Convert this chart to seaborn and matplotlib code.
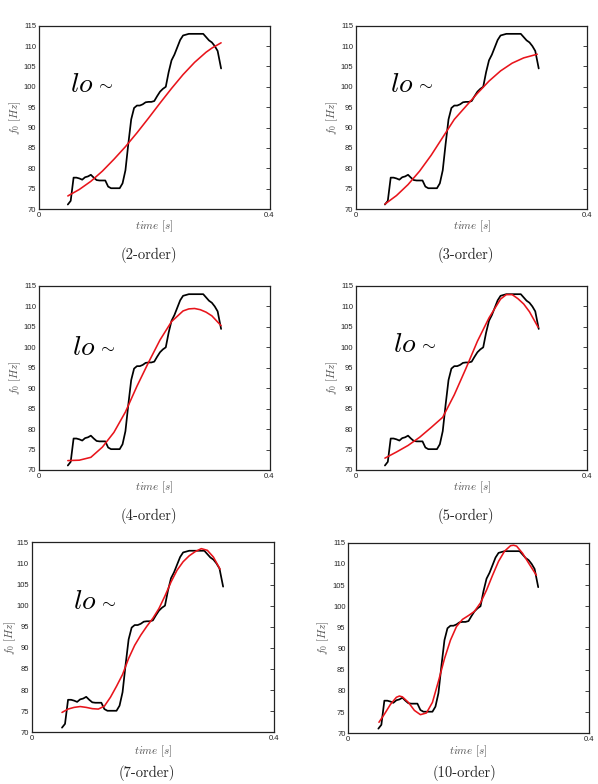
import numpy as np
import pandas as pd
import matplotlib
matplotlib.use("Agg")
import matplotlib.pyplot as plt
import seaborn as sns

# ---- data ----
time_s = [0.050, 0.055, 0.060, 0.065, 0.070, 0.075, 0.080, 0.085, 0.090, 0.095,
          0.100, 0.105, 0.110, 0.115, 0.120, 0.125, 0.130, 0.135, 0.140, 0.145,
          0.150, 0.155, 0.160, 0.165, 0.170, 0.175, 0.180, 0.185, 0.190, 0.195,
          0.200, 0.205, 0.210, 0.215, 0.220, 0.225, 0.230, 0.235, 0.240, 0.245,
          0.250, 0.255, 0.260, 0.265, 0.270, 0.275, 0.280, 0.285, 0.290, 0.295,
          0.300, 0.305, 0.310, 0.316]
f0_hz = [71.1, 72.0, 77.7, 77.7, 77.5, 77.2, 77.8, 78.0, 78.4, 77.7,
         77.1, 77.0, 77.0, 77.0, 75.5, 75.1, 75.1, 75.1, 75.1, 76.3,
         79.5, 86.0, 92.0, 94.8, 95.4, 95.4, 95.7, 96.2, 96.3, 96.3,
         96.5, 97.7, 98.8, 99.5, 100.0, 103.6, 106.5, 107.9, 109.7, 111.5,
         112.6, 112.8, 113.0, 113.0, 113.0, 113.0, 113.0, 113.0, 112.2, 111.4,
         110.9, 110.0, 108.8, 104.5]

# polynomial approximations (red curves)
fit2_t = [0.050, 0.07, 0.09, 0.11, 0.13, 0.15, 0.17, 0.19, 0.21, 0.23, 0.25, 0.27, 0.29, 0.30, 0.316]
fit2_f = [73.2, 74.8, 76.8, 79.3, 82.2, 85.3, 88.7, 92.3, 96.0, 99.6, 103.0, 106.0, 108.5, 109.5, 110.8]

fit3_t = [0.050, 0.07, 0.09, 0.11, 0.13, 0.15, 0.17, 0.19, 0.21, 0.23, 0.25, 0.27, 0.29, 0.3135]
fit3_f = [71.2, 73.3, 76.0, 79.3, 83.2, 87.6, 92.0, 95.2, 98.4, 101.4, 103.9, 105.8, 107.1, 108.0]

fit4_t = [0.050, 0.07, 0.09, 0.11, 0.13, 0.15, 0.17, 0.19, 0.21, 0.23, 0.25, 0.26, 0.27, 0.28, 0.29, 0.30, 0.316]
fit4_f = [72.3, 72.4, 73.1, 75.6, 79.2, 84.2, 90.5, 96.3, 101.8, 106.3, 108.9, 109.4, 109.5, 109.2, 108.6, 107.7, 105.3]

fit5_t = [0.050, 0.07, 0.09, 0.11, 0.13, 0.15, 0.17, 0.19, 0.21, 0.23, 0.25, 0.26, 0.27, 0.28, 0.29, 0.30, 0.315]
fit5_f = [72.9, 74.4, 76.0, 78.0, 80.4, 82.9, 88.4, 94.8, 101.5, 107.2, 111.8, 112.9, 112.9, 111.9, 110.6, 108.7, 104.9]

fit7_t = [0.050, 0.06, 0.07, 0.08, 0.09, 0.10, 0.11, 0.12, 0.13, 0.14, 0.15, 0.16, 0.17, 0.18,
          0.19, 0.20, 0.21, 0.22, 0.23, 0.24, 0.25, 0.26, 0.27, 0.28, 0.29, 0.30, 0.311]
fit7_f = [74.7, 75.5, 75.9, 76.1, 75.9, 75.6, 75.5, 76.2, 78.3, 80.9, 83.7, 87.5, 90.6, 93.0,
          95.1, 97.0, 99.3, 102.3, 105.6, 108.4, 110.4, 111.8, 112.8, 113.5, 113.1, 111.5, 108.6]

fit10_t = [0.051, 0.06, 0.07, 0.08, 0.085, 0.09, 0.10, 0.11, 0.12, 0.13, 0.14, 0.15, 0.16, 0.17,
           0.18, 0.19, 0.20, 0.21, 0.22, 0.23, 0.24, 0.25, 0.26, 0.27, 0.275, 0.28, 0.29, 0.30, 0.313]
fit10_f = [72.6, 74.5, 76.8, 78.5, 78.8, 78.6, 77.3, 75.4, 74.4, 74.8, 77.3, 82.3, 87.6, 92.0,
           95.2, 96.9, 97.8, 98.8, 100.8, 103.8, 107.3, 110.6, 113.0, 114.3, 114.4, 114.2, 112.5, 110.2, 107.3]

fits = [(fit2_t, fit2_f), (fit3_t, fit3_f), (fit4_t, fit4_f),
        (fit5_t, fit5_f), (fit7_t, fit7_f), (fit10_t, fit10_f)]
captions = ["(2-order)", "(3-order)", "(4-order)", "(5-order)", "(7-order)", "(10-order)"]
show_label = [True, True, True, True, True, False]
x_ticks = [0, 0.4]
x_tick_labels = ["0", "0.4"]
y_ticks = [70, 75, 80, 85, 90, 95, 100, 105, 110, 115]

df = pd.DataFrame({"time": time_s, "f0": f0_hz})

sns.set_theme(style="white")
plt.rcParams["mathtext.fontset"] = "cm"
plt.rcParams["font.family"] = ["Liberation Sans", "DejaVu Sans"]

W, H = 598, 784
fig = plt.figure(figsize=(W / 100, H / 100), dpi=100)

# axes boxes in pixels: (left, top, right, bottom)
boxes = [(39, 25.7, 269.5, 209), (356, 25.7, 587.3, 209),
         (39, 286, 269.5, 470), (356, 286, 587.3, 470),
         (31.7, 542.3, 274, 732.3), (348.3, 542.7, 588.7, 733.3)]
cap_pos = [(149, 255), (466, 255), (149, 516), (466, 516), (147, 773), (464, 773)]
lo_pos = [(70, 85), (390, 85), (72, 348), (393, 345), (73, 602), None]
ylab_dx = [24, 24, 24, 24, 21, 25]
xlab_dy = [17, 17, 17, 17, 18.5, 18]

for i, (l, t, r, b) in enumerate(boxes):
    ax = fig.add_axes([l / W, 1 - b / H, (r - l) / W, (b - t) / H])
    sns.lineplot(data=df, x="time", y="f0", ax=ax, color="black", lw=1.25,
                 estimator=None, sort=True)
    ft, ff = fits[i]
    sns.lineplot(x=ft, y=ff, ax=ax, color="#e8141b", lw=1.15, estimator=None, sort=True)
    ax.set_xlim(0, 0.4)
    ax.set_ylim(70, 115)
    ax.set_xticks(x_ticks)
    ax.set_xticklabels(x_tick_labels)
    ax.set_yticks(y_ticks)
    ax.tick_params(direction="in", top=True, right=True, length=3, width=0.6,
                   labelsize=5.5, colors="#222222", pad=2)
    for sp in ax.spines.values():
        sp.set_color("#222222")
        sp.set_linewidth(0.9)
    ax.set_xlabel(r"$time\ [s]$", color="#555555", fontsize=8)
    ax.set_ylabel(r"$f_0\ [Hz]$", color="#555555", fontsize=8)
    ax.xaxis.label.set_va("center")
    ax.yaxis.label.set_va("center")
    ax.xaxis.set_label_coords(0.5, -xlab_dy[i] / (b - t))
    ax.yaxis.set_label_coords(-ylab_dx[i] / (r - l), 0.5)
    ax.grid(False)
    cx, cy = cap_pos[i]
    fig.text(cx / W, 1 - cy / H, captions[i], ha="center", va="center",
             fontsize=10.5, fontname="cmr10")
    if show_label[i]:
        lx, ly = lo_pos[i]
        fig.text(lx / W, 1 - ly / H, r"$lo$", ha="left", va="center",
                 fontsize=20, color="black")
        fig.text((lx + 25) / W, 1 - (ly - 1) / H, r"$\sim$", ha="left", va="center",
                 fontsize=13, color="black")

fig.savefig("out.png", dpi=100)
